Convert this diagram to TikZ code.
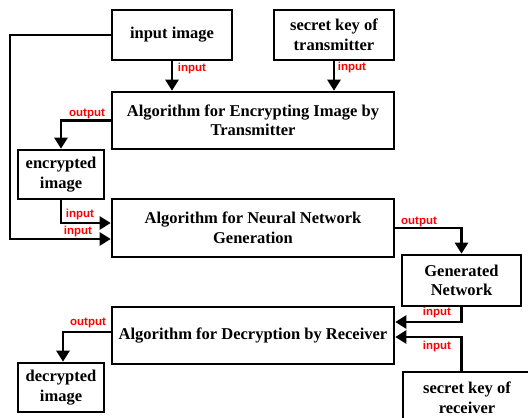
\documentclass[tikz,border=0pt]{standalone}
\usepackage{fontspec}
\setmainfont{Liberation Serif}
\newfontfamily\lblfont{Liberation Sans}
\usetikzlibrary{arrows.meta}
\begin{document}
\begin{tikzpicture}[x=1pt,y=-1pt,
  box/.style={draw, line width=2.6pt, rectangle, inner sep=0pt, align=center,
    font=\fontsize{16.5}{19.5}\selectfont\bfseries},
  conn/.style={line width=2.6pt, -{Triangle[length=11pt,width=13pt]}},
  lbl/.style={text=red, inner sep=0pt, font=\fontsize{11.5}{12}\selectfont\lblfont\bfseries}]
\useasboundingbox (0,0) rectangle (528,418);
\begin{scope}
\clip (0,0) rectangle (528,418);
% boxes
\node[box, minimum width=120pt, minimum height=50pt] (inimg) at (172,35) {input image};
\node[box, minimum width=120pt, minimum height=50pt] (tkey) at (334,35) {secret key of\\transmitter};
\node[box, minimum width=282pt, minimum height=57pt] (enc) at (253,120.5) {Algorithm for Encrypting Image by\\Transmitter};
\node[box, minimum width=86pt, minimum height=49pt] (encimg) at (61,174.5) {encrypted\\image};
\node[box, minimum width=282pt, minimum height=58pt] (nn) at (253,228) {Algorithm for Neural Network\\Generation};
\node[box, minimum width=119pt, minimum height=51pt] (gen) at (461.5,280.5) {Generated\\Network};
\node[box, minimum width=282pt, minimum height=57pt] (dec) at (253,335.5) {Algorithm for Decryption by Receiver};
\node[box, minimum width=86pt, minimum height=49pt] (decimg) at (61,387.5) {decrypted\\image};
\node[box, minimum width=128pt, minimum height=52pt] (rkey) at (467,398) {secret key of\\receiver};
\coordinate (lft) at (10,35);
% connectors
\draw[conn] (inimg.south) -- (enc.north -| inimg.south);
\draw[conn] (tkey.south) -- (enc.north -| tkey.south);
\draw[conn] (enc.west) -| (encimg.north);
\draw[conn] (encimg.south) |- ([yshift=5pt]nn.west);
\draw[conn] (inimg.west) -- (lft) |- ([yshift=-11pt]nn.west);
\draw[conn] (nn.east) -| (gen.north);
\draw[conn] (gen.south) |- ([yshift=13.5pt]dec.east);
\draw[conn] (rkey.north -| gen.south) |- ([yshift=-1.5pt]dec.east);
\draw[conn] ([yshift=3.5pt]dec.west) -| ([xshift=2pt]decimg.north);
\end{scope}
% labels
\node[lbl] (l1) at (192,69) {input};
\node[lbl] (l2) at (352,68) {input};
\node[lbl] (l3) at (87,114) {output};
\node[lbl] (l4) at (80,215) {input};
\node[lbl] (l5) at (78,232) {input};
\node[lbl] (l6) at (419,222) {output};
\node[lbl] (l7) at (437,313) {input};
\node[lbl] (l8) at (437,347) {input};
\node[lbl] (l9) at (88,323) {output};
\end{tikzpicture}
\end{document}
